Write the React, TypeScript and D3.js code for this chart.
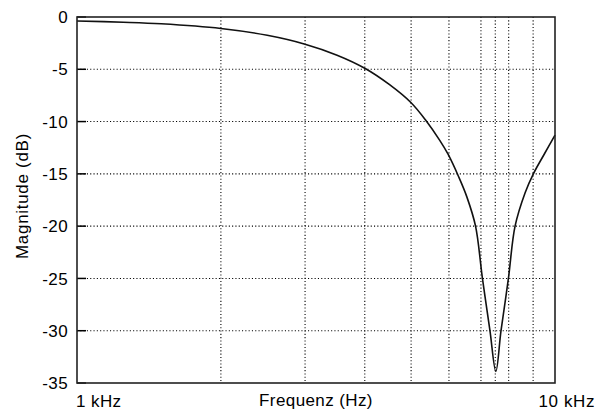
import React, { useRef, useEffect } from "react";
import * as d3 from "d3";

// frequency response
const freqHz = [1000, 1250, 1500, 2000, 2500, 3000, 3500, 4000, 4500, 5000, 5370, 5740, 5970, 6290, 6540, 6820, 7050, 7310, 7520, 7710, 7990, 8250, 8660, 9010, 9500, 10000];
const magDb = [-0.38, -0.5, -0.65, -1.1, -1.75, -2.6, -3.65, -4.9, -6.45, -8.2, -9.9, -11.8, -13.1, -15.3, -17.2, -20, -25, -30, -33.9, -30, -25, -20, -16.8, -15, -13.1, -11.3];

const yTicks = [0, -5, -10, -15, -20, -25, -30, -35];
const xGrid = [2000, 3000, 4000, 5000, 6000, 7000, 7500, 8000, 9000];
const xLabels = ["1 kHz", "10 kHz"];

const App = () => {
  const chartRef = useRef();

  useEffect(() => {
    const width = 605;
    const height = 410;
    const marginLeft = 77;
    const marginRight = 50;
    const marginTop = 17;
    const marginBottom = 27;
    const font = "'Liberation Sans', Arial, sans-serif";

    const x = d3.scaleLog()
      .domain([1000, 10000])
      .range([marginLeft, width - marginRight]);

    const y = d3.scaleLinear()
      .domain([-35, 0])
      .range([height - marginBottom, marginTop]);

    const svg = d3.create("svg")
      .attr("width", width)
      .attr("height", height)
      .attr("viewBox", [0, 0, width, height])
      .style("position", "absolute")
      .style("left", "0px")
      .style("top", "0px")
      .style("background", "#fff");

    // dotted grid
    svg.append("g")
      .selectAll("line")
      .data(yTicks.slice(1, -1))
      .join("line")
      .attr("x1", marginLeft)
      .attr("x2", width - marginRight)
      .attr("y1", d => y(d))
      .attr("y2", d => y(d))
      .attr("stroke", "#000")
      .attr("stroke-width", 1.1)
      .attr("stroke-dasharray", "1.1,2.2");

    svg.append("g")
      .selectAll("line")
      .data(xGrid)
      .join("line")
      .attr("x1", d => x(d))
      .attr("x2", d => x(d))
      .attr("y1", marginTop)
      .attr("y2", height - marginBottom)
      .attr("stroke", "#000")
      .attr("stroke-width", 1.1)
      .attr("stroke-dasharray", "1.1,2.2");

    // inward ticks on the left axis
    svg.append("g")
      .selectAll("line")
      .data(yTicks)
      .join("line")
      .attr("x1", marginLeft)
      .attr("x2", marginLeft + 9)
      .attr("y1", d => y(d))
      .attr("y2", d => y(d))
      .attr("stroke", "#000")
      .attr("stroke-width", 1.5);

    svg.append("g")
      .selectAll("text")
      .data(yTicks)
      .join("text")
      .attr("x", marginLeft - 9)
      .attr("y", d => y(d))
      .attr("dy", "0.36em")
      .attr("text-anchor", "end")
      .attr("font-family", font)
      .attr("font-size", 17)
      .attr("letter-spacing", 0.4)
      .text(d => d);

    const line = d3.line()
      .x((d, i) => x(freqHz[i]))
      .y(d => y(d))
      .curve(d3.curveCatmullRom.alpha(0.5));

    svg.append("path")
      .attr("d", line(magDb))
      .attr("fill", "none")
      .attr("stroke", "#111")
      .attr("stroke-width", 1.6);

    svg.append("rect")
      .attr("x", marginLeft)
      .attr("y", marginTop)
      .attr("width", width - marginLeft - marginRight)
      .attr("height", height - marginTop - marginBottom)
      .attr("fill", "none")
      .attr("stroke", "#222")
      .attr("stroke-width", 1.6);

    // x labels
    svg.append("text")
      .attr("x", marginLeft - 1)
      .attr("y", 407)
      .attr("font-family", font)
      .attr("font-size", 17)
      .attr("letter-spacing", 0.4)
      .text(xLabels[0]);

    svg.append("text")
      .attr("x", 595)
      .attr("y", 407)
      .attr("text-anchor", "end")
      .attr("font-family", font)
      .attr("font-size", 17)
      .attr("letter-spacing", 0.6)
      .text(xLabels[1]);

    svg.append("text")
      .attr("x", (marginLeft + width - marginRight) / 2)
      .attr("y", 406)
      .attr("text-anchor", "middle")
      .attr("font-family", font)
      .attr("font-size", 17)
      .attr("letter-spacing", 0.4)
      .text("Frequenz (Hz)");

    svg.append("text")
      .attr("transform", `translate(28,${196}) rotate(-90)`)
      .attr("text-anchor", "middle")
      .attr("font-family", font)
      .attr("font-size", 17)
      .attr("letter-spacing", 0.7)
      .text("Magnitude (dB)");

    chartRef.current.innerHTML = "";
    chartRef.current.appendChild(svg.node());
  }, []);

  return <div ref={chartRef} />;
};

export default App;
